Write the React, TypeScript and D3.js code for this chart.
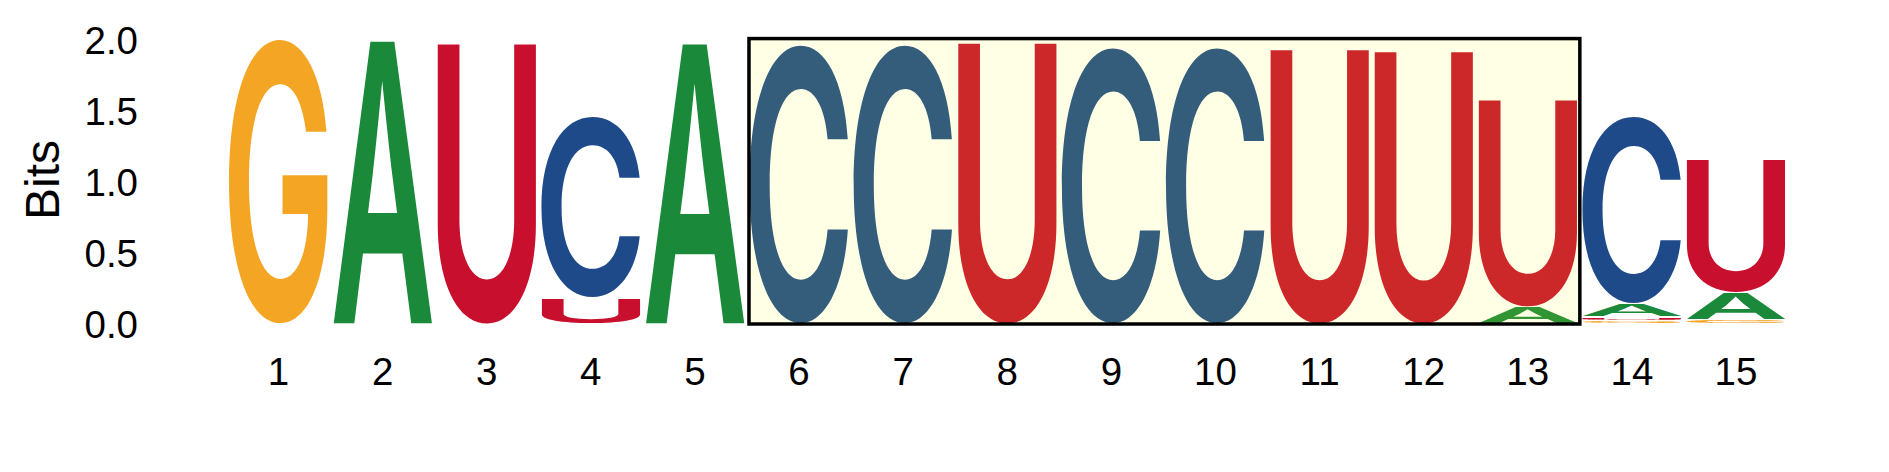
import React, { useMemo } from 'react';
import * as d3 from 'd3';

// ---- data ----
const positions = [1, 2, 3, 4, 5, 6, 7, 8, 9, 10, 11, 12, 13, 14, 15];
const bitsA = [0, 2.0, 0, 0, 1.98, 0, 0, 0, 0, 0, 0, 0, 0.12, 0.09, 0.19];
const bitsC = [0, 0, 0, 1.28, 0, 1.96, 1.96, 0, 1.94, 1.94, 0, 0, 0, 1.32, 0];
const bitsG = [2.0, 0, 0, 0, 0, 0, 0, 0, 0, 0, 0, 0, 0, 0.025, 0.03];
const bitsU = [0, 0, 1.98, 0.18, 0, 0, 0, 1.985, 0, 0, 1.94, 1.925, 1.465, 0.025, 0.94];
const yTicks = [0, 0.5, 1, 1.5, 2];
const yTickLabels = ['0.0', '0.5', '1.0', '1.5', '2.0'];
const highlightStart = 6;
const highlightEnd = 13;
const yLabel = 'Bits';

const letterColors: Record<string, string> = {
  A: '#1a8a3a',
  C: '#1e4a8a',
  G: '#f4a523',
  U: '#c8102e',
};

const FONT = '"Liberation Sans", Arial, Helvetica, sans-serif';
const GLYPH_FONT = 'Inter, "Liberation Sans", Arial, sans-serif';
const GLYPH_WEIGHT = 600;
const W = 1889;
const H = 472;
const GLYPH_SIZE = 200;

function measureGlyph(ch: string) {
  const c = document.createElement('canvas');
  c.width = 10;
  c.height = 10;
  const ctx = c.getContext('2d')!;
  ctx.font = `${GLYPH_WEIGHT} ${GLYPH_SIZE}px ${GLYPH_FONT}`;
  const m = ctx.measureText(ch);
  return {
    x0: -m.actualBoundingBoxLeft,
    x1: m.actualBoundingBoxRight,
    y0: -m.actualBoundingBoxAscent,
    y1: m.actualBoundingBoxDescent,
  };
}

export default function App() {
  const x = d3.scaleLinear().domain([1, 15]).range([278.5, 1736]);
  const y = d3.scaleLinear().domain([0, 2]).range([324, 40]);
  const letterW = 99;

  const glyphs = useMemo(() => {
    const g: Record<string, { x0: number; x1: number; y0: number; y1: number }> = {};
    ['A', 'C', 'G', 'U'].forEach((ch) => (g[ch] = measureGlyph(ch)));
    return g;
  }, []);

  const stacks = positions.map((p, i) => {
    const entries = [
      { ch: 'A', v: bitsA[i] },
      { ch: 'C', v: bitsC[i] },
      { ch: 'G', v: bitsG[i] },
      { ch: 'U', v: bitsU[i] },
    ]
      .filter((e) => e.v > 0)
      .sort((a, b) => a.v - b.v);
    let base = 0;
    return entries.map((e) => {
      const r = { pos: p, ch: e.ch, lo: base, hi: base + e.v };
      base += e.v;
      return r;
    });
  });

  const gap = 0.8;

  return (
    <svg
      width={W}
      height={H}
      viewBox={`0 0 ${W} ${H}`}
      style={{ position: 'absolute', left: 0, top: 0, display: 'block', background: '#ffffff' }}
    >
      <rect x={0} y={0} width={W} height={H} fill="#ffffff" />
      {/* y label */}
      <text
        transform={`translate(${42},${180}) rotate(-90)`}
        textAnchor="middle"
        dominantBaseline="central"
        fontFamily={FONT}
        fontSize={48}
        fill="#000"
      >
        {yLabel}
      </text>
      {/* y ticks */}
      {yTicks.map((t, i) => (
        <text
          key={t}
          x={138}
          y={y(t)}
          textAnchor="end"
          dominantBaseline="central"
          fontFamily={FONT}
          fontSize={38.5}
          fill="#000"
        >
          {yTickLabels[i]}
        </text>
      ))}
      {/* x ticks */}
      {positions.map((p) => (
        <text
          key={p}
          x={x(p)}
          y={371}
          textAnchor="middle"
          dominantBaseline="central"
          fontFamily={FONT}
          fontSize={38.5}
          fill="#000"
        >
          {p}
        </text>
      ))}
      {/* letters */}
      {stacks.flat().map((l, k) => {
        const gm = glyphs[l.ch];
        const left = x(l.pos) - letterW / 2;
        const top = y(l.hi) + gap;
        const bottom = y(l.lo) - gap;
        const h = Math.max(bottom - top, 0.5);
        const sx = letterW / (gm.x1 - gm.x0);
        const sy = h / (gm.y1 - gm.y0);
        const tx = left - gm.x0 * sx;
        const ty = top - gm.y0 * sy;
        return (
          <text
            key={k}
            x={0}
            y={0}
            transform={`translate(${tx},${ty}) scale(${sx},${sy})`}
            fontFamily={GLYPH_FONT}
            fontWeight={GLYPH_WEIGHT}
            fontSize={GLYPH_SIZE}
            fill={letterColors[l.ch]}
          >
            {l.ch}
          </text>
        );
      })}
      {/* highlight box */}
      <rect
        x={x(highlightStart - 0.5) + 2}
        y={y(2.01)}
        width={x(highlightEnd + 0.5) - x(highlightStart - 0.5) - 2}
        height={y(0) - y(2.01)}
        fill="#ffff00"
        fillOpacity={0.1}
        stroke="#000"
        strokeWidth={3.5}
      />
    </svg>
  );
}
